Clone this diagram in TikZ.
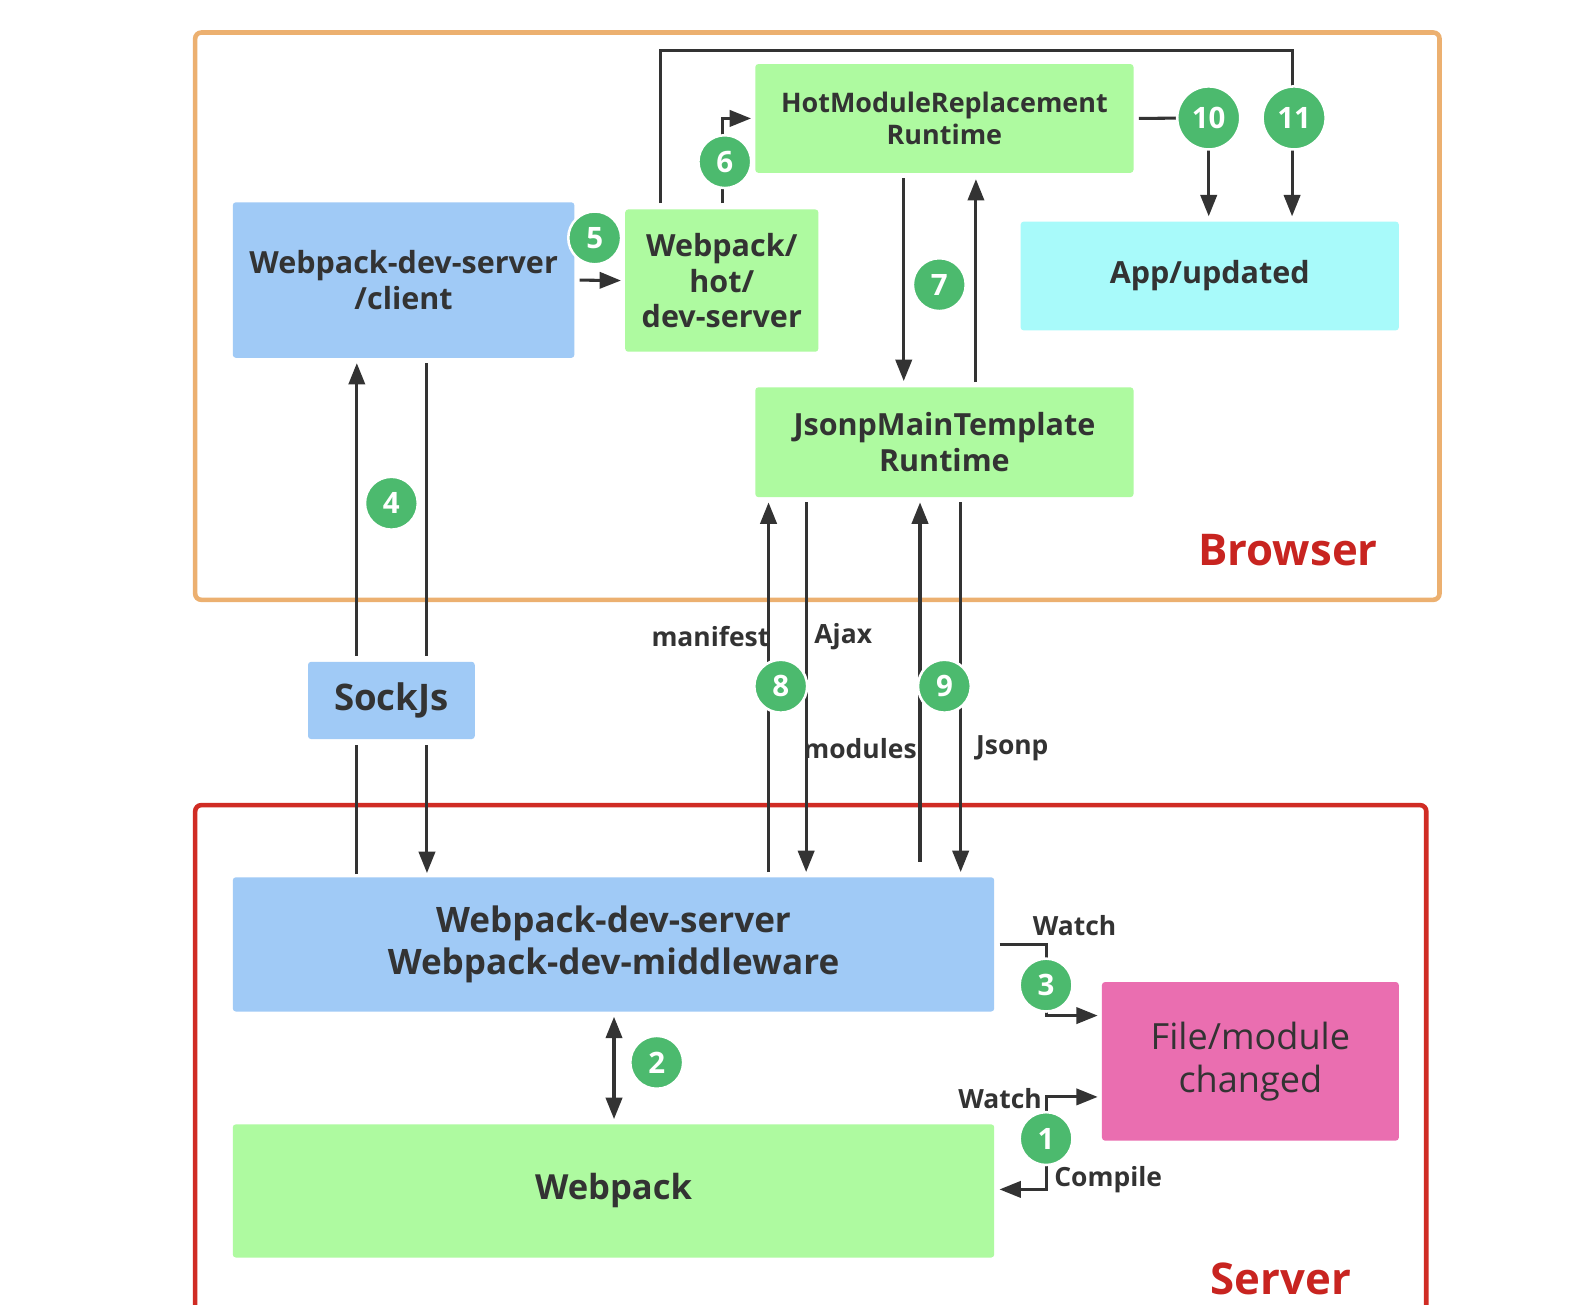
\documentclass[tikz,border=0pt]{standalone}
\usepackage{fontspec}
\setmainfont{Open Sans}
\usetikzlibrary{arrows.meta}

\definecolor{boxblue}{RGB}{160,202,246}
\definecolor{boxgreen}{RGB}{174,250,160}
\definecolor{boxcyan}{RGB}{168,250,250}
\definecolor{boxpink}{RGB}{234,110,176}
\definecolor{stepgreen}{RGB}{76,186,110}
\definecolor{ink}{RGB}{51,51,51}
\definecolor{browserframe}{RGB}{236,176,112}
\definecolor{serverframe}{RGB}{208,44,36}
\definecolor{labelred}{RGB}{200,36,32}

\newcommand{\fsz}[2]{\fontsize{#1}{#2}\selectfont}

\tikzset{
  box/.style={rounded corners=3pt, inner sep=0pt, align=center, text=ink,
    font=\bfseries\fsz{30}{35}},
  stepnum/.style={circle, fill=stepgreen, draw=white, line width=2.5pt,
    minimum size=52pt, inner sep=0pt, text=white, font=\bfseries\fsz{29}{30}},
  bigstep/.style={stepnum, minimum size=62pt},
  link/.style={draw=ink, line width=3pt},
  arr/.style={link, -{Triangle[length=21pt,width=16pt]}},
  dblarr/.style={link, {Triangle[length=21pt,width=16pt]}-{Triangle[length=21pt,width=16pt]}},
  tag/.style={text=ink, font=\bfseries\fsz{26}{28}, inner sep=0pt},
  zone/.style={text=labelred, font=\bfseries\fsz{43}{46}, inner sep=0pt},
  frame/.style={rounded corners=6pt, line width=4.5pt},
}

\begin{document}
\begin{tikzpicture}[x=1pt,y=-1pt]
\useasboundingbox (0,0) rectangle (1568,1283);
\clip (0,0) rectangle (1568,1283);
\fill[white] (0,0) rectangle (1568,1283);

% zones
\draw[frame, draw=browserframe] (192,32) rectangle (1416,590);
\draw[frame, draw=serverframe] (192,792) rectangle (1403,1330);
\node[zone] (browserlbl) at (1267,541) {Browser};
\node[zone] (serverlbl) at (1260,1258) {Server};

% browser side
\node[box, fill=boxblue, minimum width=336pt, minimum height=153pt] (client) at (397,275.5)
  {Webpack-dev-server\\/client};
\node[box, fill=boxgreen, minimum width=190pt, minimum height=140pt] (hot) at (710,276)
  {Webpack/\\hot/\\dev-server};
\node[box, fill=boxgreen, minimum width=372pt, minimum height=107pt,
  font=\bfseries\fsz{26.5}{32}] (hmr) at (929,116.5)
  {HotModuleReplacement\\Runtime};
\node[box, fill=boxcyan, minimum width=372pt, minimum height=107pt] (app) at (1190,271.5)
  {App/updated};
\node[box, fill=boxgreen, minimum width=372pt, minimum height=108pt] (jsonp) at (929,435)
  {JsonpMainTemplate\\Runtime};

% in between
\node[box, fill=boxblue, minimum width=164pt, minimum height=76pt,
  font=\bfseries\fsz{36}{38}] (sock) at (385,689) {SockJs};

% server side
\node[box, fill=boxblue, minimum width=749pt, minimum height=132pt,
  font=\bfseries\fsz{34.5}{42}] (mid) at (603.5,929)
  {Webpack-dev-server\\Webpack-dev-middleware};
\node[box, fill=boxgreen, minimum width=749pt, minimum height=131pt,
  font=\bfseries\fsz{34}{38}] (wp) at (603.5,1171.5) {Webpack};
\node[box, fill=boxpink, minimum width=292pt, minimum height=156pt,
  font=\fsz{35.5}{42}] (file) at (1230,1044) {File/module\\changed};

% step markers (positions)
\coordinate (c1) at (1029,1120);
\coordinate (c2) at (646,1045);
\coordinate (c3) at (1029,969);
\coordinate (c4) at (385,495);
\coordinate (c5) at (585,234);
\coordinate (c6) at (713,159);
\coordinate (c7) at (924,280);
\coordinate (c8) at (768,675);
\coordinate (c9) at (929,675);
\coordinate (c10) at (1189,116);
\coordinate (c11) at (1273,116);

% SockJs relay
\draw[arr, shorten <=6pt, shorten >=5pt] (351,0 |- sock.north) -- (351,0 |- client.south);
\draw[link, shorten <=5pt, shorten >=6pt] (420,0 |- client.south) -- (420,0 |- sock.north);
\draw[link, shorten <=3pt, shorten >=6pt] (351,0 |- mid.north) -- (351,0 |- sock.south);
\draw[arr, shorten <=6pt, shorten >=4pt] (420,0 |- sock.south) -- (420,0 |- mid.north);

% client -> hot -> HMR
\draw[arr, shorten <=5pt, shorten >=4pt] (client.east) -- (hot.west);
\draw[arr, shorten <=6pt, shorten >=4pt] (711,0 |- hot.north) |- (hmr.west);
\draw[arr, shorten <=6pt, shorten >=5pt] (650,0 |- hot.north) -- (650,50) -- (1271,50)
  -- (1271,0 |- app.north);

% HMR -> App
\draw[link, shorten <=5pt] (hmr.east) -- (c10);
\draw[arr, shorten >=5pt] (c10) -- (c10 |- app.north);

% HMR <-> Jsonp
\draw[arr, shorten <=5pt, shorten >=6pt] (889,0 |- hmr.south) -- (889,0 |- jsonp.north);
\draw[arr, shorten <=5pt, shorten >=6pt] (960,0 |- jsonp.north) -- (960,0 |- hmr.south);

% Jsonp <-> middleware
\draw[arr, shorten <=5pt, shorten >=5pt] (756,0 |- mid.north) -- (756,0 |- jsonp.south);
\draw[arr, shorten <=5pt, shorten >=5pt] (793,0 |- jsonp.south) -- (793,0 |- mid.north);
\draw[arr, shorten <=15pt, shorten >=5pt] (905,0 |- mid.north) -- (905,0 |- jsonp.south);
\draw[arr, shorten <=5pt, shorten >=5pt] (945,0 |- jsonp.south) -- (945,0 |- mid.north);
\node[tag, anchor=east] (tmanifest) at (757,626) {manifest};
\node[tag, anchor=west] (tajax) at (801,626) {Ajax};
\node[tag] (tmodules) at (846,736) {modules};
\node[tag, anchor=west] (tjsonp) at (960,736) {Jsonp};

% middleware <-> webpack
\draw[dblarr, shorten <=5pt, shorten >=5pt] (604,0 |- mid.south) -- (604,0 |- wp.north);

% watch / compile loop
\draw[link, shorten <=5pt] (mid.east) -| (c3);
\draw[arr, shorten >=4pt] (c3) |- (file.west |- 0,999);
\node[tag] (twatchtop) at (1057,910) {Watch};
\draw[arr, shorten >=4pt] (c1) |- (file.west |- 0,1079);
\node[tag, anchor=east] (twatchlow) at (1025,1081) {Watch};
\draw[arr, shorten >=5pt] (c1) |- (wp.east |- 0,1170);
\node[tag, anchor=west] (tcompile) at (1037,1160) {Compile};

% numbered steps
\node[stepnum] (n1) at (c1) {1};
\node[stepnum] (n2) at (c2) {2};
\node[stepnum] (n3) at (c3) {3};
\node[stepnum] (n4) at (c4) {4};
\node[stepnum] (n5) at (c5) {5};
\node[stepnum] (n6) at (c6) {6};
\node[stepnum] (n7) at (c7) {7};
\node[stepnum] (n8) at (c8) {8};
\node[stepnum] (n9) at (c9) {9};
\node[bigstep] (n10) at (c10) {10};
\node[bigstep] (n11) at (c11) {11};
\end{tikzpicture}
\end{document}
